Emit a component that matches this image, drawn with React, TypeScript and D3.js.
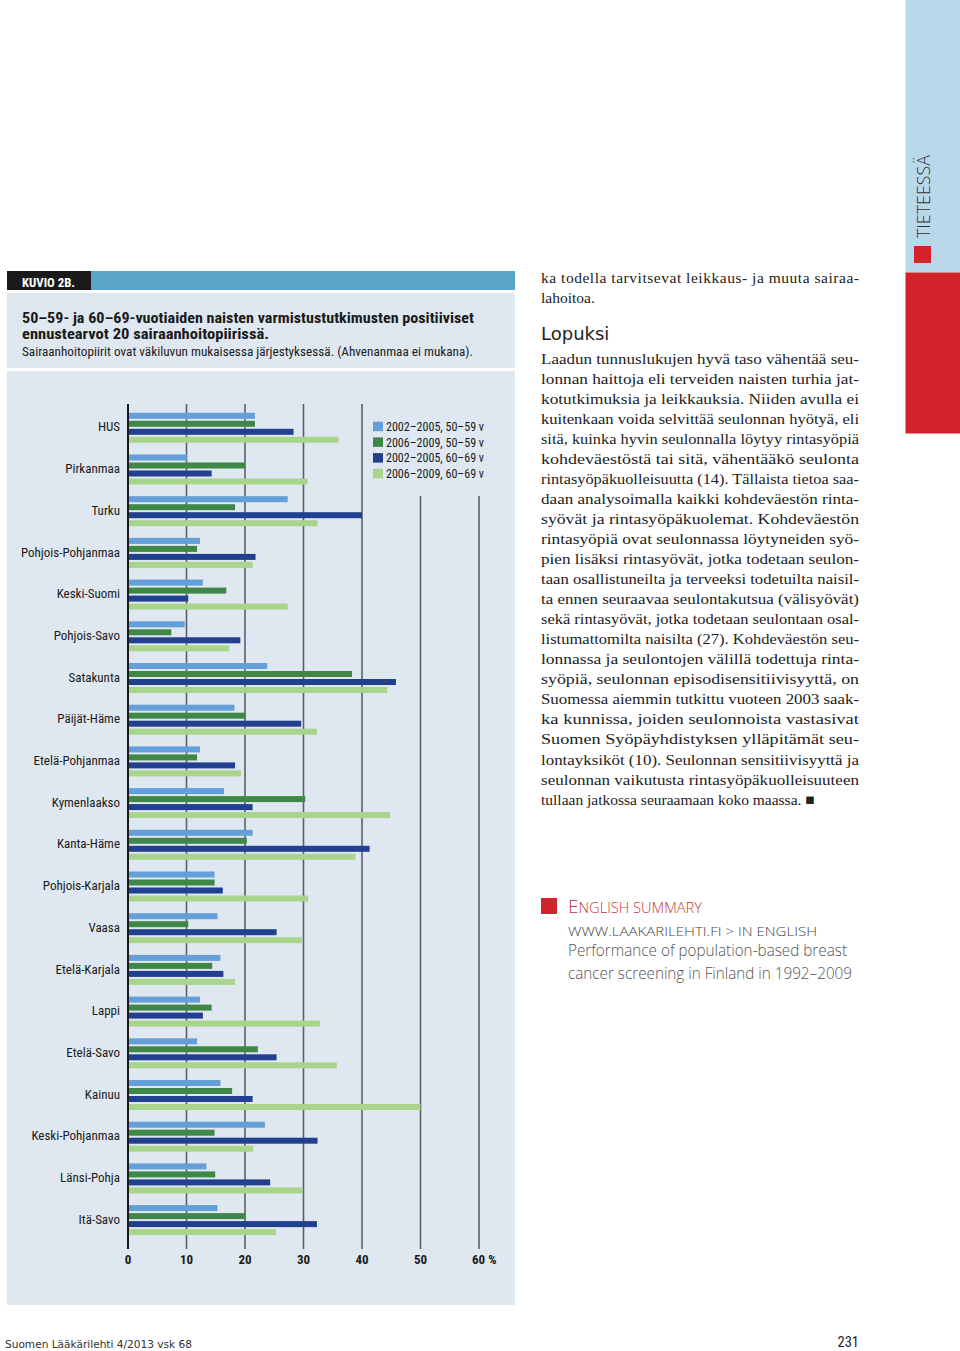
import React, { useEffect, useRef } from 'react';
import * as d3 from 'd3';

const regions = [
  'HUS', 'Pirkanmaa', 'Turku', 'Pohjois-Pohjanmaa', 'Keski-Suomi', 'Pohjois-Savo',
  'Satakunta', 'Päijät-Häme', 'Etelä-Pohjanmaa', 'Kymenlaakso', 'Kanta-Häme',
  'Pohjois-Karjala', 'Vaasa', 'Etelä-Karjala', 'Lappi', 'Etelä-Savo', 'Kainuu',
  'Keski-Pohjanmaa', 'Länsi-Pohja', 'Itä-Savo',
];

const seriesNames = ['2002–2005, 50–59 v', '2006–2009, 50–59 v', '2002–2005, 60–69 v', '2006–2009, 60–69 v'];
const seriesColors = ['#659fd9', '#3f8747', '#223f90', '#a8d58b'];

const early5059 = [21.7, 10.1, 27.3, 12.3, 12.8, 9.7, 23.8, 18.2, 12.3, 16.4, 21.3, 14.8, 15.3, 15.8, 12.3, 11.8, 15.8, 23.4, 13.4, 15.3];
const late5059 = [21.7, 20.0, 18.3, 11.8, 16.8, 7.4, 38.3, 20.1, 11.8, 30.3, 20.3, 14.8, 10.3, 14.4, 14.3, 22.2, 17.8, 14.8, 14.9, 20.1];
const early6069 = [28.3, 14.3, 40.0, 21.8, 10.3, 19.2, 45.8, 29.6, 18.3, 21.3, 41.3, 16.2, 25.4, 16.3, 12.8, 25.4, 21.3, 32.4, 24.3, 32.3];
const late6069 = [36.0, 30.7, 32.4, 21.3, 27.3, 17.3, 44.3, 32.3, 19.3, 44.8, 38.9, 30.8, 29.7, 18.3, 32.8, 35.7, 50.0, 21.4, 29.8, 25.3];

const xTicks = [0, 10, 20, 30, 40, 50, 60];

const titleLines = [
  '50–59- ja 60–69-vuotiaiden naisten varmistustutkimusten positiiviset',
  'ennustearvot 20 sairaanhoitopiirissä.',
];
const subtitle = 'Sairaanhoitopiirit ovat väkiluvun mukaisessa järjestyksessä. (Ahvenanmaa ei mukana).';

const introLines = ['ka todella tarvitsevat leikkaus- ja muuta sairaa-', 'lahoitoa.'];
const bodyLines = [
  'Laadun tunnuslukujen hyvä taso vähentää seu-',
  'lonnan haittoja eli terveiden naisten turhia jat-',
  'kotutkimuksia ja leikkauksia. Niiden avulla ei',
  'kuitenkaan voida selvittää seulonnan hyötyä, eli',
  'sitä, kuinka hyvin seulonnalla löytyy rintasyöpiä',
  'kohdeväestöstä tai sitä, vähentääkö seulonta',
  'rintasyöpäkuolleisuutta (14). Tällaista tietoa saa-',
  'daan analysoimalla kaikki kohdeväestön rinta-',
  'syövät ja rintasyöpäkuolemat. Kohdeväestön',
  'rintasyöpiä ovat seulonnassa löytyneiden syö-',
  'pien lisäksi rintasyövät, jotka todetaan seulon-',
  'taan osallistuneilta ja terveeksi todetuilta naisil-',
  'ta ennen seuraavaa seulontakutsua (välisyövät)',
  'sekä rintasyövät, jotka todetaan seulontaan osal-',
  'listumattomilta naisilta (27). Kohdeväestön seu-',
  'lonnassa ja seulontojen välillä todettuja rinta-',
  'syöpiä, seulonnan episodisensitiivisyyttä, on',
  'Suomessa aiemmin tutkittu vuoteen 2003 saak-',
  'ka kunnissa, joiden seulonnoista vastasivat',
  'Suomen Syöpäyhdistyksen ylläpitämät seu-',
  'lontayksiköt (10). Seulonnan sensitiivisyyttä ja',
  'seulonnan vaikutusta rintasyöpäkuolleisuuteen',
  'tullaan jatkossa seuraamaan koko maassa. ■',
];

const condensed = '"Liberation Sans Narrow", "Roboto Condensed", "DejaVu Sans Condensed", "Liberation Sans", sans-serif';
const serif = '"Liberation Serif", "DejaVu Serif", serif';
const lightSans = '"Open Sans", "Noto Sans", sans-serif';

const App: React.FC = () => {
  const svgRef = useRef<SVGSVGElement>(null);
  const width = 960;
  const height = 1351;

  useEffect(() => {
    if (!svgRef.current) return;
    const svg = d3.select(svgRef.current);
    svg.selectAll('*').remove();

    svg.append('rect').attr('width', width).attr('height', height).attr('fill', '#fff');

    // header strip
    svg.append('rect').attr('x', 7).attr('y', 271).attr('width', 508).attr('height', 19).attr('fill', '#5aa6c9');
    svg.append('rect').attr('x', 7).attr('y', 271).attr('width', 84).attr('height', 19).attr('fill', '#1a1a1a');
    svg.append('text')
      .attr('x', 22).attr('y', 286.5)
      .attr('textLength', 53).attr('lengthAdjust', 'spacingAndGlyphs')
      .style('font-family', condensed).style('font-weight', 'bold').style('font-size', '13.5px')
      .attr('fill', '#fff')
      .text('KUVIO 2B.');

    // title panel
    svg.append('rect').attr('x', 7).attr('y', 293).attr('width', 508).attr('height', 75).attr('fill', '#dfe8f1');
    titleLines.forEach((line, i) => {
      svg.append('text')
        .attr('x', 22).attr('y', 323 + i * 15.5)
        .attr('textLength', i === 0 ? 452 : 247).attr('lengthAdjust', 'spacingAndGlyphs')
        .style('font-family', condensed).style('font-weight', 'bold').style('font-size', '15px')
        .attr('fill', '#1a1a1a')
        .text(line);
    });
    svg.append('text')
      .attr('x', 22).attr('y', 356)
      .attr('textLength', 451).attr('lengthAdjust', 'spacingAndGlyphs')
      .style('font-family', condensed).style('font-size', '13.5px')
      .attr('fill', '#1a1a1a')
      .text(subtitle);

    // chart panel
    svg.append('rect').attr('x', 7).attr('y', 371).attr('width', 508).attr('height', 934).attr('fill', '#dfe8f1');

    const xScale = d3.scaleLinear().domain([0, 60]).range([128, 479]);
    const yScale = d3.scaleBand<string>().domain(regions).range([404, 404 + 20 * 41.7]);
    const sub = d3.scaleBand<number>().domain([0, 1, 2, 3]).range([7.8, 39.8]).paddingInner(0.25).paddingOuter(0.125);

    const g = svg.append('g');

    // gridlines
    xTicks.slice(1).forEach(t => {
      g.append('line')
        .attr('x1', xScale(t)).attr('x2', xScale(t))
        .attr('y1', t >= 50 ? 496 : 404).attr('y2', 1249)
        .attr('stroke', '#5b6068').attr('stroke-width', 1.6);
    });

    const series = [early5059, late5059, early6069, late6069];
    series.forEach((vals, si) => {
      g.selectAll(`.bar-${si}`)
        .data(regions.map((r, i) => ({ r, v: vals[i] })))
        .enter()
        .append('rect')
        .attr('x', xScale(0))
        .attr('y', d => (yScale(d.r) || 0) + (sub(si) || 0))
        .attr('width', d => xScale(d.v) - xScale(0))
        .attr('height', sub.bandwidth())
        .attr('fill', seriesColors[si]);
    });

    // zero axis
    g.append('line')
      .attr('x1', xScale(0)).attr('x2', xScale(0))
      .attr('y1', 404).attr('y2', 1249)
      .attr('stroke', '#1a1a1a').attr('stroke-width', 2);

    // category labels
    g.selectAll('.cat')
      .data(regions)
      .enter()
      .append('text')
      .attr('x', 120)
      .attr('y', d => (yScale(d) || 0) + yScale.bandwidth() / 2 + 2)
      .attr('dy', '0.35em')
      .attr('text-anchor', 'end')
      .style('font-family', condensed).style('font-size', '13px').style('font-weight', 'normal')
      .attr('fill', '#1a1a1a')
      .text(d => d);

    // tick labels
    g.selectAll('.tick-label')
      .data(xTicks)
      .enter()
      .append('text')
      .attr('x', d => xScale(d))
      .attr('y', 1264)
      .attr('text-anchor', d => (d === 60 ? 'start' : 'middle'))
      .attr('dx', d => (d === 60 ? -7 : 0))
      .style('font-family', condensed).style('font-size', '13px').style('font-weight', 'bold')
      .attr('fill', '#1a1a1a')
      .text(d => (d === 60 ? '60 %' : String(d)));

    // legend
    seriesNames.forEach((name, i) => {
      const ly = 421.7 + i * 15.7;
      g.append('rect').attr('x', 373).attr('y', ly).attr('width', 10).attr('height', 9.5).attr('fill', seriesColors[i]);
      g.append('text')
        .attr('x', 386).attr('y', ly + 9.2)
        .attr('textLength', 98).attr('lengthAdjust', 'spacingAndGlyphs')
        .style('font-family', condensed).style('font-size', '13.5px')
        .attr('fill', '#1a1a1a')
        .text(name);
    });

    // right column text
    introLines.forEach((line, i) => {
      const t = svg.append('text')
        .attr('x', 541).attr('y', 283 + i * 20)
        .style('font-family', serif).style('font-size', '15.5px')
        .attr('fill', '#222')
        .text(line);
      if (i === 0) t.attr('textLength', 318).attr('lengthAdjust', 'spacing');
    });
    svg.append('text')
      .attr('x', 541).attr('y', 340)
      .style('font-family', '"DejaVu Sans", "Noto Sans", sans-serif').style('font-size', '18px')
      .attr('fill', '#222')
      .text('Lopuksi');
    bodyLines.forEach((line, i) => {
      const t = svg.append('text')
        .attr('x', 541).attr('y', 363.5 + i * 20.05)
        .style('font-family', serif).style('font-size', '15.5px')
        .attr('fill', '#222')
        .text(line);
      if (i < bodyLines.length - 1) t.attr('textLength', 318).attr('lengthAdjust', 'spacingAndGlyphs');
    });

    // english summary
    svg.append('rect').attr('x', 541).attr('y', 898).attr('width', 16).attr('height', 16).attr('fill', '#d2232a');
    const es = svg.append('text')
      .attr('x', 568).attr('y', 913)
      .attr('textLength', 134).attr('lengthAdjust', 'spacingAndGlyphs')
      .style('font-family', lightSans).style('font-weight', 300)
      .attr('fill', '#c5333a');
    es.append('tspan').style('font-size', '19px').text('E');
    es.append('tspan').style('font-size', '14.5px').text('NGLISH SUMMARY');
    svg.append('text')
      .attr('x', 568).attr('y', 936)
      .attr('textLength', 249).attr('lengthAdjust', 'spacingAndGlyphs')
      .style('font-family', lightSans).style('font-weight', 300).style('font-size', '13.5px')
      .attr('fill', '#444')
      .text('WWW.LAAKARILEHTI.FI > IN ENGLISH');
    svg.append('text')
      .attr('x', 568).attr('y', 956)
      .attr('textLength', 279).attr('lengthAdjust', 'spacingAndGlyphs')
      .style('font-family', lightSans).style('font-weight', 300).style('font-size', '17px')
      .attr('fill', '#555')
      .text('Performance of population-based breast');
    svg.append('text')
      .attr('x', 568).attr('y', 978.5)
      .attr('textLength', 284).attr('lengthAdjust', 'spacingAndGlyphs')
      .style('font-family', lightSans).style('font-weight', 300).style('font-size', '17px')
      .attr('fill', '#555')
      .text('cancer screening in Finland in 1992–2009');

    // side tab
    svg.append('rect').attr('x', 905.5).attr('y', 0).attr('width', 54.5).attr('height', 272.5).attr('fill', '#b9d9ea');
    svg.append('rect').attr('x', 905.5).attr('y', 272.5).attr('width', 54.5).attr('height', 161).attr('fill', '#d2232a');
    svg.append('rect').attr('x', 914).attr('y', 246).attr('width', 17).attr('height', 17).attr('fill', '#d2232a');
    svg.append('text')
      .attr('transform', 'translate(929.5,238) rotate(-90)')
      .attr('textLength', 83).attr('lengthAdjust', 'spacingAndGlyphs')
      .style('font-family', lightSans).style('font-weight', 300).style('font-size', '19px')
      .attr('fill', '#333')
      .text('TIETEESSÄ');

    // footer
    svg.append('text')
      .attr('x', 5).attr('y', 1348)
      .attr('textLength', 187).attr('lengthAdjust', 'spacingAndGlyphs')
      .style('font-family', '"DejaVu Sans", sans-serif').style('font-size', '10px')
      .attr('fill', '#333')
      .text('Suomen Lääkärilehti 4/2013 vsk 68');
    svg.append('text')
      .attr('x', 859).attr('y', 1347)
      .attr('text-anchor', 'end')
      .style('font-family', condensed).style('font-size', '14.5px')
      .attr('fill', '#222')
      .text('231');
  }, []);

  return (
    <svg
      ref={svgRef}
      width={width}
      height={height}
      style={{ position: 'absolute', top: 0, left: 0, display: 'block' }}
    />
  );
};

export default App;
